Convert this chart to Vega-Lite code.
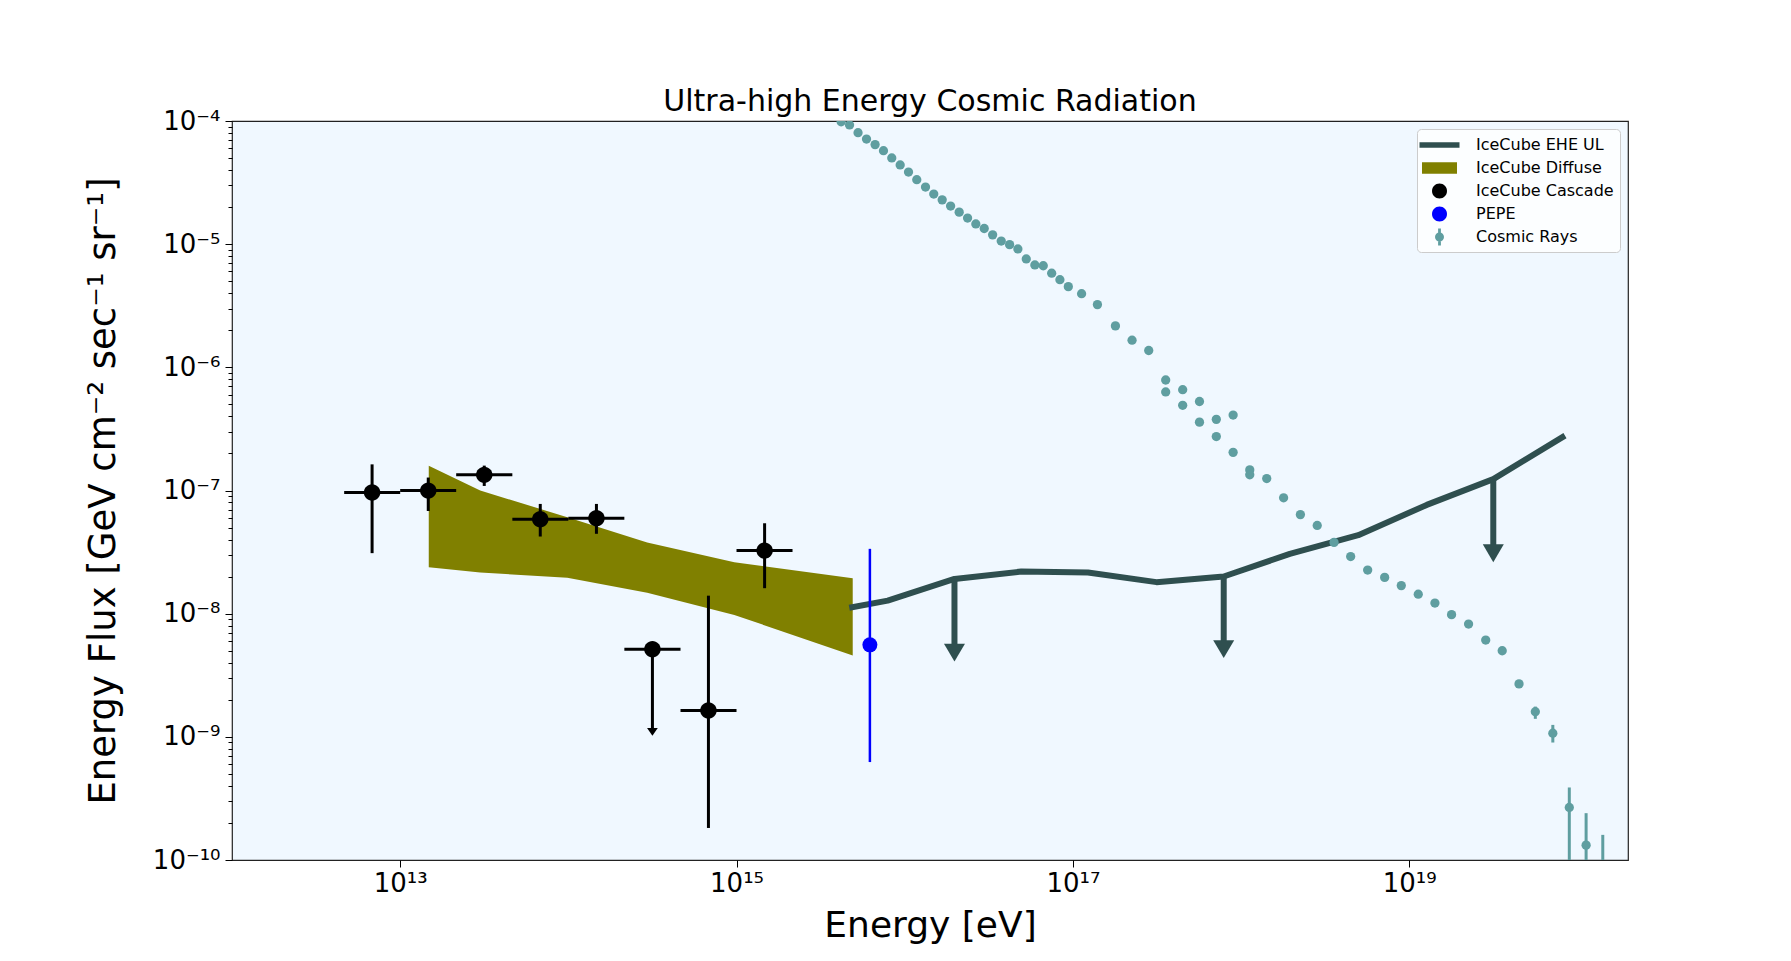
{
  "$schema": "https://vega.github.io/schema/vega-lite/v6.json",
  "width": 1396,
  "height": 739,
  "autosize": {"type": "none"},
  "padding": {"left": 232, "top": 121, "right": 163, "bottom": 101},
  "background": "white",
  "title": {"text": "Ultra-high Energy Cosmic Radiation", "font": "DejaVu Sans", "fontSize": 30, "fontWeight": "normal", "color": "black", "anchor": "middle", "baseline": "bottom", "offset": 4, "dy": 43},
  "config": {
    "font": "DejaVu Sans",
    "view": {"fill": "aliceblue", "stroke": "#222222", "strokeWidth": 1.2},
    "axis": {"labelFont": "DejaVu Sans", "titleFont": "DejaVu Sans", "labelColor": "black", "titleColor": "black", "tickColor": "black", "tickWidth": 1, "domain": false, "grid": false, "titleFontWeight": "normal", "labelFlush": false, "labelOverlap": false, "labelBound": false},
    "legend": {"orient": "top-right", "offset": 8, "padding": 6, "rowPadding": 5, "symbolSize": 400, "symbolOffset": 6.5, "labelOffset": 26.5, "labelFont": "DejaVu Sans", "labelFontSize": 16, "labelColor": "black", "labelLimit": 300, "fillColor": "rgba(255,255,255,0.8)", "strokeColor": "#cccccc", "cornerRadius": 4, "symbolStrokeWidth": 0, "symbolOpacity": 1}
  },
  "datasets": {
    "diffuse": [
      {"E": 1.479e13, "lo": 2.38e-8, "hi": 1.585e-7},
      {"E": 2.992e13, "lo": 2.16e-8, "hi": 9.98e-8},
      {"E": 9.863e13, "lo": 1.96e-8, "hi": 6.07e-8},
      {"E": 2.944e14, "lo": 1.48e-8, "hi": 3.78e-8},
      {"E": 9.705e14, "lo": 9.77e-9, "hi": 2.62e-8},
      {"E": 4.909e15, "lo": 4.57e-9, "hi": 1.94e-8}
    ],
    "ehe": [
      {"E": 4.875e15, "F": 1.127e-8},
      {"E": 7.925e15, "F": 1.276e-8},
      {"E": 1.977e16, "F": 1.914e-8},
      {"E": 4.932e16, "F": 2.198e-8},
      {"E": 1.230e17, "F": 2.158e-8},
      {"E": 3.141e17, "F": 1.803e-8},
      {"E": 7.889e17, "F": 2.004e-8},
      {"E": 1.950e18, "F": 3.055e-8},
      {"E": 4.977e18, "F": 4.335e-8},
      {"E": 1.271e19, "F": 7.638e-8},
      {"E": 3.162e19, "F": 1.236e-7},
      {"E": 8.147e19, "F": 2.710e-7}
    ],
    "ehe_ul": [
      {"E": 1.977e16, "top": 1.914e-8, "shaft": 5.37e-9, "tip": 4.08e-9},
      {"E": 7.889e17, "top": 2.004e-8, "shaft": 5.75e-9, "tip": 4.36e-9},
      {"E": 3.162e19, "top": 1.236e-7, "shaft": 3.47e-8, "tip": 2.62e-8}
    ],
    "cascade": [
      {"series": "IceCube Cascade", "E": 6.808e12, "Elo": 4.645e12, "Ehi": 1e13, "F": 9.62e-8, "Flo": 3.10e-8, "Fhi": 1.63e-7},
      {"series": "IceCube Cascade", "E": 1.469e13, "Elo": 1e13, "Ehi": 2.153e13, "F": 9.98e-8, "Flo": 6.82e-8, "Fhi": 1.274e-7},
      {"series": "IceCube Cascade", "E": 3.162e13, "Elo": 2.153e13, "Ehi": 4.645e13, "F": 1.340e-7, "Flo": 1.089e-7, "Fhi": 1.592e-7},
      {"series": "IceCube Cascade", "E": 6.808e13, "Elo": 4.645e13, "Ehi": 1e14, "F": 5.85e-8, "Flo": 4.23e-8, "Fhi": 7.78e-8},
      {"series": "IceCube Cascade", "E": 1.469e14, "Elo": 1e14, "Ehi": 2.153e14, "F": 5.96e-8, "Flo": 4.45e-8, "Fhi": 7.78e-8},
      {"series": "IceCube Cascade", "E": 3.162e14, "Elo": 2.153e14, "Ehi": 4.645e14, "F": 5.15e-9, "Flo": 1.15e-9, "Fhi": 5.15e-9},
      {"series": "IceCube Cascade", "E": 6.808e14, "Elo": 4.645e14, "Ehi": 1e15, "F": 1.637e-9, "Flo": 1.82e-10, "Fhi": 1.40e-8},
      {"series": "IceCube Cascade", "E": 1.469e15, "Elo": 1e15, "Ehi": 2.153e15, "F": 3.25e-8, "Flo": 1.61e-8, "Fhi": 5.42e-8}
    ],
    "cascade_ul": [
      {"E": 3.162e14, "tip": 1.02e-9}
    ],
    "pepe": [
      {"E": 6.21e15, "F": 5.58e-9, "Flo": 6.24e-10, "Fhi": 3.36e-8}
    ],
    "cr": [
      {"E": 4.19e15, "F": 9.86e-5}, {"E": 4.70e15, "F": 9.29e-5}, {"E": 5.28e15, "F": 8.04e-5}, {"E": 5.93e15, "F": 7.14e-5},
      {"E": 6.67e15, "F": 6.43e-5}, {"E": 7.48e15, "F": 5.74e-5}, {"E": 8.38e15, "F": 5.01e-5}, {"E": 9.40e15, "F": 4.40e-5},
      {"E": 1.054e16, "F": 3.85e-5}, {"E": 1.180e16, "F": 3.34e-5}, {"E": 1.330e16, "F": 2.91e-5}, {"E": 1.489e16, "F": 2.55e-5},
      {"E": 1.671e16, "F": 2.29e-5}, {"E": 1.875e16, "F": 2.04e-5}, {"E": 2.109e16, "F": 1.82e-5}, {"E": 2.366e16, "F": 1.63e-5},
      {"E": 2.649e16, "F": 1.46e-5}, {"E": 2.972e16, "F": 1.34e-5}, {"E": 3.334e16, "F": 1.19e-5}, {"E": 3.750e16, "F": 1.06e-5},
      {"E": 4.207e16, "F": 9.91e-6}, {"E": 4.710e16, "F": 9.14e-6}, {"E": 5.284e16, "F": 7.59e-6}, {"E": 5.943e16, "F": 6.78e-6},
      {"E": 6.668e16, "F": 6.68e-6}, {"E": 7.482e16, "F": 5.81e-6}, {"E": 8.375e16, "F": 5.15e-6}, {"E": 9.397e16, "F": 4.52e-6},
      {"E": 1.127e17, "F": 3.96e-6}, {"E": 1.400e17, "F": 3.23e-6}, {"E": 1.791e17, "F": 2.17e-6}, {"E": 2.249e17, "F": 1.66e-6},
      {"E": 2.825e17, "F": 1.37e-6}, {"E": 3.565e17, "F": 7.89e-7}, {"E": 3.565e17, "F": 6.31e-7}, {"E": 4.498e17, "F": 6.58e-7},
      {"E": 4.498e17, "F": 4.92e-7}, {"E": 5.662e17, "F": 5.28e-7}, {"E": 5.662e17, "F": 3.59e-7}, {"E": 7.129e17, "F": 3.78e-7},
      {"E": 7.129e17, "F": 2.74e-7}, {"E": 8.974e17, "F": 4.10e-7}, {"E": 8.974e17, "F": 2.04e-7}, {"E": 1.127e18, "F": 1.47e-7},
      {"E": 1.127e18, "F": 1.34e-7}, {"E": 1.422e18, "F": 1.25e-7}, {"E": 1.791e18, "F": 8.73e-8}, {"E": 2.254e18, "F": 6.37e-8},
      {"E": 2.838e18, "F": 5.20e-8}, {"E": 3.573e18, "F": 3.79e-8}, {"E": 4.487e18, "F": 2.91e-8}, {"E": 5.662e18, "F": 2.26e-8},
      {"E": 7.145e18, "F": 1.97e-8}, {"E": 8.974e18, "F": 1.69e-8}, {"E": 1.132e19, "F": 1.44e-8}, {"E": 1.422e19, "F": 1.22e-8},
      {"E": 1.786e19, "F": 9.82e-9}, {"E": 2.254e19, "F": 8.24e-9}, {"E": 2.851e19, "F": 6.11e-9}, {"E": 3.573e19, "F": 5.00e-9},
      {"E": 4.498e19, "F": 2.69e-9}, {"E": 5.623e19, "F": 1.60e-9}, {"E": 7.145e19, "F": 1.07e-9}, {"E": 8.954e19, "F": 2.67e-10},
      {"E": 1.127e20, "F": 1.32e-10}, {"E": 1.416e20, "F": 5e-11}
    ],
    "crerr": [
      {"E": 5.623e19, "lo": 1.40e-9, "hi": 1.76e-9},
      {"E": 7.145e19, "lo": 8.99e-10, "hi": 1.25e-9},
      {"E": 8.954e19, "lo": 1e-11, "hi": 3.88e-10},
      {"E": 1.127e20, "lo": 1e-11, "hi": 2.40e-10},
      {"E": 1.416e20, "lo": 1e-11, "hi": 1.60e-10}
    ]
  },
  "encoding": {
    "x": {"type": "quantitative", "scale": {"type": "log", "domain": [1e12, 2e20], "nice": false},
      "axis": {"values": [1e13, 1e15, 1e17, 1e19], "labelExpr": "datum.value==1e13?'10¹³':datum.value==1e15?'10¹⁵':datum.value==1e17?'10¹⁷':datum.value==1e19?'10¹⁹':''", "labelFontSize": 26, "tickSize": 7, "labelPadding": 3, "title": "Energy [eV]", "titleFontSize": 36, "titlePadding": 12}},
    "y": {"type": "quantitative", "scale": {"type": "log", "domain": [1e-10, 1e-4], "nice": false},
      "axis": {"values": [1e-10, 2e-10, 3e-10, 4e-10, 5e-10, 6e-10, 7e-10, 8e-10, 9e-10, 1e-9, 2e-9, 3e-9, 4e-9, 5e-9, 6e-9, 7e-9, 8e-9, 9e-9, 1e-8, 2e-8, 3e-8, 4e-8, 5e-8, 6e-8, 7e-8, 8e-8, 9e-8, 1e-7, 2e-7, 3e-7, 4e-7, 5e-7, 6e-7, 7e-7, 8e-7, 9e-7, 1e-6, 2e-6, 3e-6, 4e-6, 5e-6, 6e-6, 7e-6, 8e-6, 9e-6, 1e-5, 2e-5, 3e-5, 4e-5, 5e-5, 6e-5, 7e-5, 8e-5, 9e-5, 1e-4],
        "labelExpr": "datum.value==1e-4?'10⁻⁴':datum.value==1e-5?'10⁻⁵':datum.value==1e-6?'10⁻⁶':datum.value==1e-7?'10⁻⁷':datum.value==1e-8?'10⁻⁸':datum.value==1e-9?'10⁻⁹':datum.value==1e-10?'10⁻¹⁰':''",
        "labelFontSize": 26, "labelPadding": 5,
        "tickSize": {"condition": {"test": "datum.value==1e-4||datum.value==1e-5||datum.value==1e-6||datum.value==1e-7||datum.value==1e-8||datum.value==1e-9||datum.value==1e-10", "value": 7}, "value": 4},
        "title": "Energy Flux [GeV cm⁻² sec⁻¹ sr⁻¹]", "titleFontSize": 37, "titlePadding": 30}}
  },
  "layer": [
    {
      "data": {"name": "diffuse"},
      "mark": {"type": "area", "color": "olive", "opacity": 1},
      "encoding": {
        "x": {"field": "E"},
        "y": {"field": "hi"},
        "y2": {"field": "lo"}
      }
    },
    {
      "data": {"name": "ehe"},
      "mark": {"type": "line", "color": "darkslategray", "strokeWidth": 6, "strokeCap": "square", "strokeJoin": "round"},
      "encoding": {
        "x": {"field": "E"},
        "y": {"field": "F"}
      }
    },
    {
      "data": {"name": "ehe_ul"},
      "mark": {"type": "rule", "color": "darkslategray", "strokeWidth": 6},
      "encoding": {
        "x": {"field": "E"},
        "y": {"field": "top"},
        "y2": {"field": "shaft"}
      }
    },
    {
      "data": {"name": "ehe_ul"},
      "mark": {"type": "point", "shape": "M-1,-1.7L1,-1.7L0,0Z", "size": 441, "filled": true, "color": "darkslategray", "opacity": 1, "strokeWidth": 0},
      "encoding": {
        "x": {"field": "E"},
        "y": {"field": "tip"}
      }
    },
    {
      "data": {"name": "cascade"},
      "mark": {"type": "rule", "color": "black", "strokeWidth": 3},
      "encoding": {
        "x": {"field": "Elo"},
        "x2": {"field": "Ehi"},
        "y": {"field": "F"}
      }
    },
    {
      "data": {"name": "cascade"},
      "mark": {"type": "rule", "color": "black", "strokeWidth": 3},
      "encoding": {
        "x": {"field": "E"},
        "y": {"field": "Flo"},
        "y2": {"field": "Fhi"}
      }
    },
    {
      "data": {"name": "cascade_ul"},
      "mark": {"type": "point", "shape": "M-1,-1.45L1,-1.45L0,0Z", "size": 115, "filled": true, "color": "black", "opacity": 1, "strokeWidth": 0},
      "encoding": {
        "x": {"field": "E"},
        "y": {"field": "tip"}
      }
    },
    {
      "data": {"name": "cascade"},
      "mark": {"type": "point", "filled": true, "opacity": 1, "size": 480, "strokeWidth": 0},
      "encoding": {
        "x": {"field": "E"},
        "y": {"field": "F"},
        "color": {"field": "series", "type": "nominal",
          "scale": {"domain": ["IceCube EHE UL", "IceCube Diffuse", "IceCube Cascade", "PEPE", "Cosmic Rays"], "range": ["darkslategray", "olive", "black", "blue", "cadetblue"]},
          "legend": {"title": null}},
        "shape": {"field": "series", "type": "nominal",
          "scale": {"domain": ["IceCube EHE UL", "IceCube Diffuse", "IceCube Cascade", "PEPE", "Cosmic Rays"],
            "range": ["M-2,-0.27H2V0.27H-2Z", "M-1.75,-0.58H1.75V0.58H-1.75Z", "M0.75,0A0.75,0.75 0 1,1 -0.75,0A0.75,0.75 0 1,1 0.75,0Z", "M0.75,0A0.75,0.75 0 1,1 -0.75,0A0.75,0.75 0 1,1 0.75,0Z", "M-0.14,-0.85H0.14V0.85H-0.14Z M0.45,0A0.45,0.45 0 1,1 -0.45,0A0.45,0.45 0 1,1 0.45,0Z"]},
          "legend": {"title": null}}
      }
    },
    {
      "data": {"name": "pepe"},
      "mark": {"type": "rule", "color": "blue", "strokeWidth": 2.5},
      "encoding": {
        "x": {"field": "E"},
        "y": {"field": "Flo"},
        "y2": {"field": "Fhi"}
      }
    },
    {
      "data": {"name": "pepe"},
      "mark": {"type": "point", "shape": "circle", "filled": true, "color": "blue", "opacity": 1, "size": 225, "strokeWidth": 0},
      "encoding": {
        "x": {"field": "E"},
        "y": {"field": "F"}
      }
    },
    {
      "data": {"name": "crerr"},
      "mark": {"type": "rule", "color": "cadetblue", "strokeWidth": 3, "clip": true},
      "encoding": {
        "x": {"field": "E"},
        "y": {"field": "lo"},
        "y2": {"field": "hi"}
      }
    },
    {
      "data": {"name": "cr"},
      "mark": {"type": "point", "shape": "circle", "filled": true, "color": "cadetblue", "opacity": 1, "size": 86, "strokeWidth": 0, "clip": true},
      "encoding": {
        "x": {"field": "E"},
        "y": {"field": "F"}
      }
    }
  ]
}
